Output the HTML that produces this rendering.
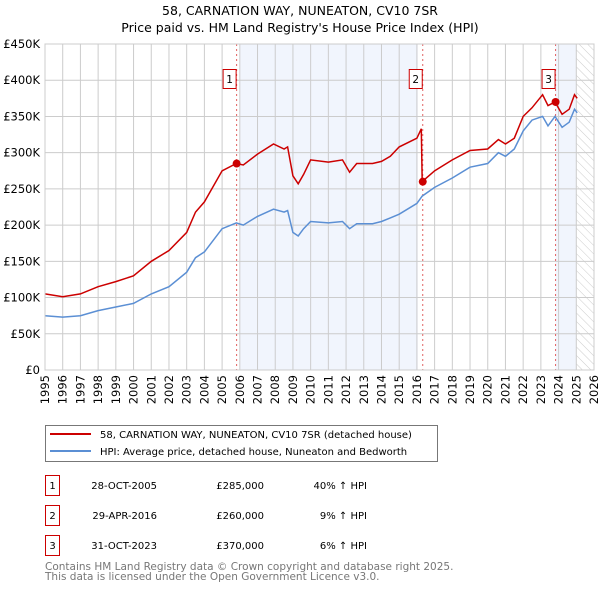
<!DOCTYPE html>
<html><head><meta charset="utf-8"><style>
body{margin:0;background:#fff;font-family:"DejaVu Sans","Liberation Sans",sans-serif;}
svg text{font-family:"DejaVu Sans","Liberation Sans",sans-serif;}
</style></head><body>
<svg id="chart" width="600" height="590" viewBox="0 0 600 590" xmlns="http://www.w3.org/2000/svg">
<defs><pattern id="hatch" width="6" height="6" patternUnits="userSpaceOnUse" patternTransform="rotate(-45)"><line x1="0" y1="0" x2="0" y2="6" stroke="#ccc" stroke-width="1"/></pattern></defs>
<text x="300" y="15" font-size="12.5" text-anchor="middle">58, CARNATION WAY, NUNEATON, CV10 7SR</text>
<text x="300" y="32" font-size="12.5" text-anchor="middle">Price paid vs. HM Land Registry's House Price Index (HPI)</text>
<g id="bg"></g><g id="grid"></g><g id="marks"></g><g id="axes"></g>
<g>
<rect x="45.5" y="425.5" width="392" height="36" fill="#fff" stroke="#777"/>
<line x1="50" y1="434" x2="91" y2="434" stroke="#cc0000" stroke-width="2"/>
<text x="100" y="438" font-size="10">58, CARNATION WAY, NUNEATON, CV10 7SR (detached house)</text>
<line x1="50" y1="451" x2="91" y2="451" stroke="#5b8fd4" stroke-width="2"/>
<text x="100" y="455" font-size="10">HPI: Average price, detached house, Nuneaton and Bedworth</text>
</g>
<g id="table" font-size="10"></g>
<text x="45" y="570" font-size="10.5" fill="#777">Contains HM Land Registry data © Crown copyright and database right 2025.</text>
<text x="45" y="580" font-size="10.5" fill="#777">This data is licensed under the Open Government Licence v3.0.</text>
</svg>
<script>
const hpiYears=[1995,1996,1997,1998,1999,2000,2001,2002,2003,2003.5,2004,2005,2005.8,2006.2,2007,2007.9,2008.5,2008.7,2009,2009.3,2009.6,2010,2011,2011.8,2012.2,2012.6,2013.5,2014,2014.5,2015,2016,2016.3,2017,2018,2019,2020,2020.6,2021,2021.5,2022,2022.5,2023.1,2023.4,2023.8,2024.2,2024.6,2024.9,2025.05];
const hpiValues=[75,73,75,82,87,92,105,115,135,155,163,195,203,200,212,222,218,220,190,185,195,205,203,205,195,202,202,205,210,215,230,240,252,265,280,285,300,295,305,330,345,350,337,350,335,342,360,355];
const priceYears=[1995,1996,1997,1998,1999,2000,2001,2002,2003,2003.5,2004,2005,2005.8,2006.2,2007,2007.9,2008.5,2008.7,2009,2009.3,2009.6,2010,2011,2011.8,2012.2,2012.6,2013.5,2014,2014.5,2015,2016,2016.25,2016.3,2017,2018,2019,2020,2020.6,2021,2021.5,2022,2022.5,2023.1,2023.4,2023.8,2024.2,2024.6,2024.9,2025.05];
const priceValues=[105,101,105,115,122,130,150,165,190,218,232,275,285,283,298,312,305,308,268,257,270,290,287,290,273,285,285,288,295,308,320,333,260,275,290,303,305,318,312,320,350,362,380,365,370,353,360,380,375];
const saleLabels=["1","2","3"];
const saleYears=[2005.82,2016.33,2023.83];
const saleValues=[285,260,370];
const saleDates=["28-OCT-2005","29-APR-2016","31-OCT-2023"];
const salePrices=["£285,000","£260,000","£370,000"];
const saleHpi=["40% ↑ HPI","9% ↑ HPI","6% ↑ HPI"];
const yTicks=[0,50,100,150,200,250,300,350,400,450];
const yTickLabels=["£0","£50K","£100K","£150K","£200K","£250K","£300K","£350K","£400K","£450K"];
const xTicks=[1995,1996,1997,1998,1999,2000,2001,2002,2003,2004,2005,2006,2007,2008,2009,2010,2011,2012,2013,2014,2015,2016,2017,2018,2019,2020,2021,2022,2023,2024,2025,2026];

const L=45,R=594,T=44,B=370;
const x=v=>L+(v-1995)/31*(R-L);
const y=v=>B-v/450*(B-T);
const NS="http://www.w3.org/2000/svg";
function mk(p,tag,a){const e=document.createElementNS(NS,tag);for(const k in a)e.setAttribute(k,a[k]);p.appendChild(e);return e;}
const bg=document.getElementById('bg'),grid=document.getElementById('grid'),marks=document.getElementById('marks'),axes=document.getElementById('axes'),table=document.getElementById('table');
let r=mk(bg,'rect',{x:x(2006),y:T,width:x(2016.05)-x(2006),height:B-T,fill:'#eef3fc',opacity:0.8});


r=mk(bg,'rect',{x:x(2023.83),y:T,width:x(2025.0)-x(2023.83),height:B-T,fill:'#eef3fc',opacity:0.8});


r=mk(bg,'rect',{x:x(2025.0),y:T,width:R-x(2025.0),height:B-T,fill:'url(#hatch)'});


yTicks.forEach((t,i)=>{
  const g=mk(grid,'line',{x1:L,x2:R,y1:y(t),y2:y(t),stroke:'#ccc','stroke-width':1});
  
  
  const tx=mk(axes,'text',{x:L-5,y:y(t)+4,'font-size':11.5,'text-anchor':'end'});
  
  
  tx.textContent=yTickLabels[i];
});
xTicks.forEach(t=>{
  const g=mk(grid,'line',{x1:x(t),x2:x(t),y1:T,y2:B,stroke:'#ccc','stroke-width':1});
  
  
  const tx=mk(axes,'text',{x:0,y:0,'font-size':11.5,'text-anchor':'end',transform:`translate(${x(t)+4},${B+5}) rotate(-90)`});
  
  
  tx.textContent=t;
});
let bd=mk(axes,'rect',{x:L,y:T,width:R-L,height:B-T,fill:'none',stroke:'#ccc'});


saleYears.forEach((s,i)=>{
  const l=mk(marks,'line',{x1:x(s),x2:x(s),y1:T,y2:B,stroke:'#e06060','stroke-dasharray':'2,3','stroke-width':1});
  
  
});
function path(xs,vs){return xs.map((v,i)=>(i?'L':'M')+x(v).toFixed(1)+','+y(vs[i]).toFixed(1)).join('');}
let p=mk(marks,'path',{d:path(hpiYears,hpiValues),fill:'none',stroke:'#5b8fd4','stroke-width':1.5});


p=mk(marks,'path',{d:path(priceYears,priceValues),fill:'none',stroke:'#cc0000','stroke-width':1.5});


saleYears.forEach((s,i)=>{
  const c=mk(marks,'circle',{cx:x(s),cy:y(saleValues[i]),r:4,fill:'#cc0000'});
  
  
  const b=mk(marks,'rect',{x:x(s)-13.5,y:69.5,width:13,height:19,fill:'#fff',stroke:'#cc0000'});
  
  
  const t=mk(marks,'text',{x:x(s)-7,y:83,'font-size':10.5,'text-anchor':'middle'});
  
  
  t.textContent=saleLabels[i];
  const yy=475+i*30;
  const tb=mk(table,'rect',{x:45.5,y:yy+0.5,width:14,height:20,fill:'#fff',stroke:'#cc0000'});
  
  
  const tn=mk(table,'text',{x:52.5,y:yy+14,'text-anchor':'middle'});
  
  
  tn.textContent=saleLabels[i];
  const td=mk(table,'text',{x:157,y:yy+14,'text-anchor':'end'});
  
  
  td.textContent=saleDates[i];
  const tp=mk(table,'text',{x:264,y:yy+14,'text-anchor':'end'});
  
  
  tp.textContent=salePrices[i];
  const th=mk(table,'text',{x:367,y:yy+14,'text-anchor':'end'});
  
  
  th.textContent=saleHpi[i];
});
</script>
</body></html>
